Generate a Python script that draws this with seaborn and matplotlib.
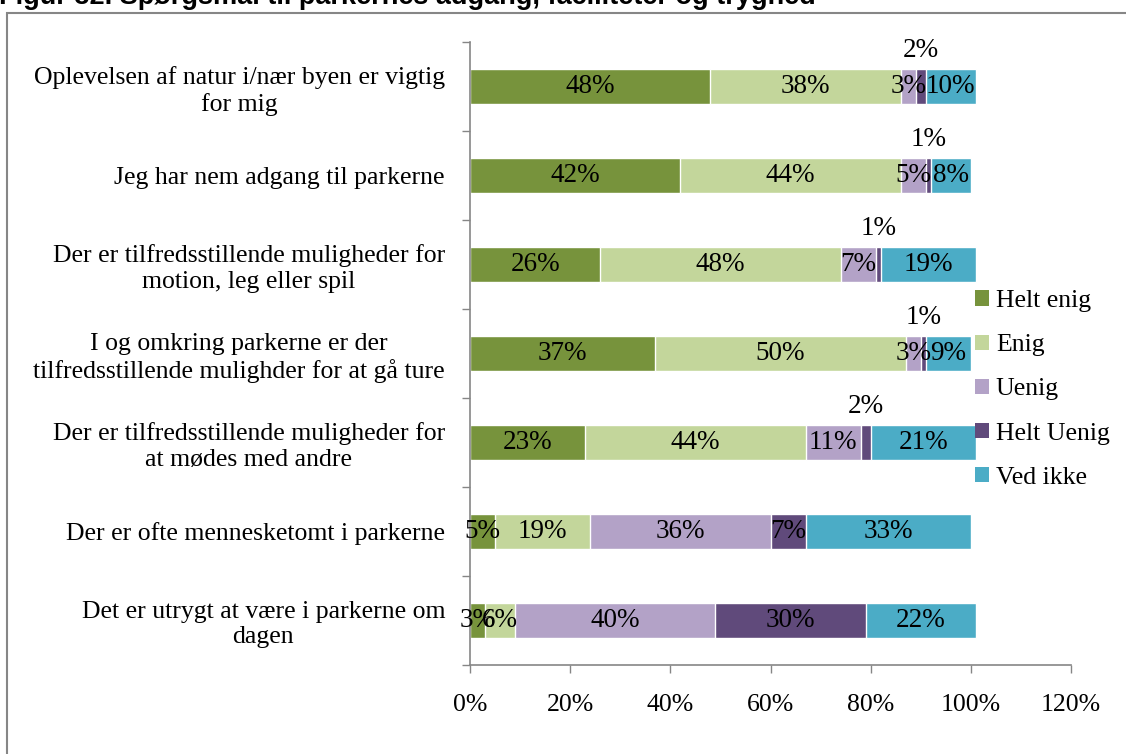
import numpy as np
import seaborn as sns
from matplotlib import pyplot as plt
from matplotlib.patches import Patch, Rectangle

questions = ['Oplevelsen af natur i/nær byen er vigtig\nfor mig',
             'Jeg har nem adgang til parkerne',
             'Der er tilfredsstillende muligheder for\nmotion, leg eller spil',
             'I og omkring parkerne er der\ntilfredsstillende mulighder for at gå ture',
             'Der er tilfredsstillende muligheder for\nat mødes med andre',
             'Der er ofte mennesketomt i parkerne',
             'Det er utrygt at være i parkerne om\ndagen']
answers = ['Helt enig', 'Enig', 'Uenig', 'Helt Uenig', 'Ved ikke']
helt_enig = [48, 42, 26, 37, 23, 5, 3]
enig = [38, 44, 48, 50, 44, 19, 6]
uenig = [3, 5, 7, 3, 11, 36, 40]
helt_uenig = [2, 1, 1, 1, 2, 7, 30]
ved_ikke = [10, 8, 19, 9, 21, 33, 22]
xticks = [0, 20, 40, 60, 80, 100, 120]

colors = ['#77933C', '#C3D69B', '#B3A2C7', '#604A7B', '#4BACC6']
grey = '#868686'

sns.set_style('white')
plt.rcParams['font.family'] = ['Liberation Serif', 'DejaVu Serif']
plt.rcParams['text.color'] = 'black'
plt.rcParams['xtick.color'] = 'black'
plt.rcParams['ytick.color'] = 'black'

values = np.array([helt_enig, enig, uenig, helt_uenig, ved_ikke], dtype=float)
cum = values.cumsum(axis=0)

fig = plt.figure(figsize=(11.26, 7.54), dpi=100)
ax = fig.add_axes([470 / 1126, 1 - 665 / 754, 601 / 1126, 623 / 754])

# stacked bars: draw the running totals from the longest down
for i in reversed(range(len(answers))):
    sns.barplot(x=cum[i], y=questions, orient='h', color=colors[i],
                saturation=1, width=0.4, ax=ax)

for i in range(len(answers)):
    for j in range(len(questions)):
        v = values[i, j]
        xc = cum[i, j] - v / 2
        yc = j - 0.4 if v <= 2 else j
        ax.text(xc, yc, f'{v:.0f}%', ha='center', va='center', fontsize=19.5)

ax.set_xlim(0, 120)
ax.set_ylim(6.5, -0.5)
ax.set_xticks(xticks)
ax.set_xticklabels([f'{t}%' for t in xticks], fontsize=18.5)
ax.set_yticks(range(len(questions)))
ax.set_yticklabels(questions, fontsize=18.5)
for lab in ax.get_yticklabels():
    lab.set_multialignment('center')
ax.set_yticks(np.arange(-0.5, 7, 1), minor=True)
ax.tick_params(axis='y', which='major', length=0, pad=18)
ax.tick_params(axis='y', which='minor', length=6, width=1, color=grey, direction='out', left=True)
ax.tick_params(axis='x', length=6, width=1, color=grey, direction='out', bottom=True, pad=15)
ax.set_xlabel('')
ax.set_ylabel('')
for s in ['top', 'right']:
    ax.spines[s].set_visible(False)
for s in ['left', 'bottom']:
    ax.spines[s].set_color(grey)
    ax.spines[s].set_linewidth(1.2)

handles = [Patch(facecolor=c, edgecolor='none') for c in colors]
fig.legend(handles, answers, loc='upper left', bbox_to_anchor=(965 / 1126, 1 - 280 / 754),
           frameon=False, fontsize=18.5, handlelength=0.55, handleheight=0.55,
           handletextpad=0.25, labelspacing=0.86, borderaxespad=0, borderpad=0.4)

fig.patches.append(Rectangle((7 / 1126, -0.05), 1.2, 1 - 13 / 754 + 0.05,
                             transform=fig.transFigure, fill=False,
                             edgecolor=grey, linewidth=1.5))
fig.text(-1 / 1126, 1 - 4 / 754, 'Figur 32. Spørgsmål til parkernes adgang, faciliteter og tryghed',
         fontsize=19.5, fontweight='bold', family='Liberation Sans', va='baseline')

fig.savefig('out.png', dpi=100)
